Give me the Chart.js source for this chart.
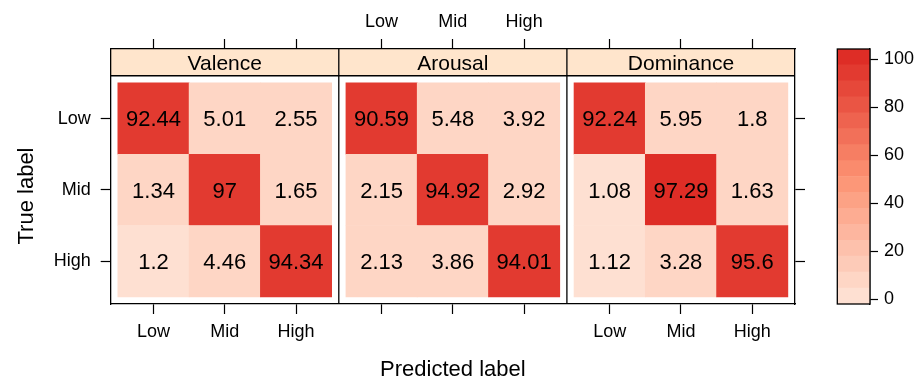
<!DOCTYPE html>
<html>
<head>
<meta charset="utf-8">
<script src="https://cdn.jsdelivr.net/npm/chart.js@4.4.1/dist/chart.umd.min.js"></script>
<style>
  html, body { margin: 0; padding: 0; background: #fff; }
  #wrap { position: relative; width: 919px; height: 378px; }
  #wrap canvas { position: absolute; left: 0; top: 0; }
</style>
</head>
<body>
<div id="wrap">
  <canvas id="matrix" width="919" height="378"></canvas>
  <canvas id="key" width="919" height="378"></canvas>
</div>
<script>
const panelNames = ['Valence', 'Arousal', 'Dominance'];
const classLabels = ['Low', 'Mid', 'High'];
// rows = true label (Low, Mid, High), columns = predicted label
const valence = [[92.44, 5.01, 2.55], [1.34, 97, 1.65], [1.2, 4.46, 94.34]];
const arousal = [[90.59, 5.48, 3.92], [2.15, 94.92, 2.92], [2.13, 3.86, 94.01]];
const dominance = [[92.24, 5.95, 1.8], [1.08, 97.29, 1.63], [1.12, 3.28, 95.6]];
const keyTicks = [0, 20, 40, 60, 80, 100];
const keyRange = [-1.96, 104.2];
const reds = ['#FEE0D2', '#FED6C5', '#FDCBB8', '#FDC1AC', '#FDB69F', '#FDAC92', '#FCA285', '#FC9778',
              '#FA8B6D', '#F67E63', '#F27059', '#EE634F', '#EA5544', '#E6483A', '#E23A30', '#DE2D26'];

const FONT = "'Liberation Sans', Arial, Helvetica, sans-serif";
const INK = '#000';
const PANEL_W = 3.2;   // a panel runs 0.4 .. 3.6 in cell units
const STRIP = 0.375;   // strip height in cell units

const matrices = [valence, arousal, dominance];
const allVals = [].concat(...matrices.map(m => [].concat(...m)));
const zMin = Math.min(...allVals), zMax = Math.max(...allVals);
const zLo = zMin - 0.07 * (zMax - zMin), zHi = zMax + 0.07 * (zMax - zMin);
const zStep = (zHi - zLo) / reds.length;
function fillFor(v) {
  const k = Math.ceil((v - zLo) / zStep) - 1;
  return reds[Math.max(0, Math.min(reds.length - 1, k))];
}

const cellX = (p, c) => p * PANEL_W + c + 0.6;
const tickPos = [];
matrices.forEach((m, p) => classLabels.forEach((l, c) => tickPos.push(cellX(p, c))));

const datasets = matrices.map((m, p) => {
  const pts = [], cols = [];
  m.forEach((row, r) => row.forEach((v, c) => {
    pts.push({ x: cellX(p, c), y: [r + 0.5, r + 1.5], v: v });
    cols.push(fillFor(v));
  }));
  return {
    label: panelNames[p], data: pts, backgroundColor: cols,
    borderWidth: 0, grouped: false, barPercentage: 1, categoryPercentage: 1
  };
});

function fixTicks(values) {
  return axis => { axis.ticks = values.map(v => ({ value: v })); };
}
const tickFont = { family: FONT, size: 18 };
const grid = { display: true, offset: false, drawOnChartArea: false, drawTicks: true, tickLength: 10, tickColor: INK, tickWidth: 1.2 };
const border = { display: true, color: INK, width: 1.3 };

const panelDecor = {
  id: 'panelDecor',
  beforeDraw(chart) {
    const { ctx, chartArea: a, scales } = chart;
    const yStrip = scales.y.getPixelForValue(0.4);
    ctx.save();
    ctx.fillStyle = '#FFE5CC';
    ctx.fillRect(a.left, a.top, a.right - a.left, yStrip - a.top);
    ctx.restore();
  },
  afterDatasetsDraw(chart) {
    const { ctx } = chart;
    ctx.save();
    ctx.fillStyle = INK;
    ctx.font = '22px ' + FONT;
    ctx.textAlign = 'center';
    ctx.textBaseline = 'alphabetic';
    chart.data.datasets.forEach((ds, d) => {
      chart.getDatasetMeta(d).data.forEach((bar, i) => {
        const cy = (bar.y + bar.base) / 2;
        ctx.fillText(String(ds.data[i].v), bar.x, cy + 0.358 * 22);
      });
    });
    ctx.restore();
  },
  afterDraw(chart) {
    const { ctx, chartArea: a, scales } = chart;
    const yStrip = scales.y.getPixelForValue(0.4);
    ctx.save();
    ctx.strokeStyle = INK;
    ctx.lineWidth = 1.3;
    ctx.beginPath();
    ctx.moveTo(a.left, yStrip);
    ctx.lineTo(a.right, yStrip);
    [1, 2].forEach(p => {
      const x = scales.x.getPixelForValue(p * PANEL_W);
      ctx.moveTo(x, a.top);
      ctx.lineTo(x, a.bottom);
    });
    ctx.stroke();

    ctx.fillStyle = INK;
    ctx.font = '21px ' + FONT;
    ctx.textAlign = 'center';
    ctx.textBaseline = 'alphabetic';
    panelNames.forEach((name, p) => {
      const x = scales.x.getPixelForValue(p * PANEL_W + PANEL_W / 2);
      ctx.fillText(name, x, (a.top + yStrip) / 2 + 0.358 * 21);
    });

    ctx.font = '22px ' + FONT;
    ctx.fillText('Predicted label', (a.left + a.right) / 2, 376);
    ctx.translate(32.7, 196);
    ctx.rotate(-Math.PI / 2);
    ctx.fillText('True label', 0, 0);
    ctx.restore();
  }
};

new Chart(document.getElementById('matrix'), {
  type: 'bar',
  data: { datasets: datasets },
  options: {
    responsive: false,
    animation: false,
    layout: { padding: { left: 0, top: 0, right: 112, bottom: 0 }, autoPadding: false },
    plugins: { legend: { display: false }, tooltip: { enabled: false } },
    scales: {
      x: {
        type: 'linear', position: 'bottom', min: 0, max: 3 * PANEL_W, offset: false,
        afterBuildTicks: fixTicks(tickPos),
        afterFit: s => { s.height = 74; },
        grid: grid, border: border,
        ticks: { autoSkip: false, maxRotation: 0, padding: 7, color: INK, font: tickFont,
                 callback: (v, i) => (Math.floor(i / 3) !== 1 ? classLabels[i % 3] : '') }
      },
      x2: {
        type: 'linear', position: 'top', min: 0, max: 3 * PANEL_W, offset: false,
        afterBuildTicks: fixTicks(tickPos),
        afterFit: s => { s.height = 49; },
        grid: grid, border: border,
        ticks: { autoSkip: false, maxRotation: 0, padding: 6.5, color: INK, font: tickFont,
                 callback: (v, i) => (Math.floor(i / 3) === 1 ? classLabels[i % 3] : '') }
      },
      y: {
        type: 'linear', position: 'left', reverse: true, min: 0.4 - STRIP, max: 3.6,
        afterBuildTicks: fixTicks([1, 2, 3]),
        afterFit: s => { s.width = 110.7; },
        grid: grid, border: border,
        ticks: { padding: 10, color: INK, font: tickFont, callback: (v, i) => classLabels[i] }
      },
      y2: {
        type: 'linear', position: 'right', reverse: true, min: 0.4 - STRIP, max: 3.6,
        afterBuildTicks: fixTicks([1, 2, 3]),
        afterFit: s => { s.width = 12; },
        grid: grid, border: border,
        ticks: { padding: 0, color: INK, font: tickFont, callback: () => '' }
      }
    }
  },
  plugins: [panelDecor]
});

// colour key
const keyStep = (keyRange[1] - keyRange[0]) / reds.length;
const keyBox = {
  id: 'keyBox',
  afterDraw(chart) {
    const { ctx, chartArea: a } = chart;
    ctx.save();
    ctx.strokeStyle = INK;
    ctx.lineWidth = 1.3;
    ctx.strokeRect(a.left, a.top, a.right - a.left, a.bottom - a.top);
    ctx.restore();
  }
};
new Chart(document.getElementById('key'), {
  type: 'bar',
  data: {
    labels: [''],
    datasets: reds.map((col, i) => ({
      data: [[keyRange[0] + i * keyStep, keyRange[0] + (i + 1) * keyStep]],
      backgroundColor: col, borderWidth: 0, grouped: false,
      barPercentage: 1, categoryPercentage: 1
    }))
  },
  options: {
    responsive: false,
    animation: false,
    layout: { padding: { left: 837.3, top: 49, right: 0, bottom: 74 }, autoPadding: false },
    plugins: { legend: { display: false }, tooltip: { enabled: false } },
    scales: {
      x: { type: 'category', display: false, offset: true },
      y: {
        position: 'right', min: keyRange[0], max: keyRange[1],
        afterBuildTicks: fixTicks(keyTicks),
        afterFit: s => { s.width = 49; },
        grid: { display: true, drawOnChartArea: false, drawTicks: true, tickLength: 8, tickColor: INK, tickWidth: 1.2 },
        border: border,
        ticks: { padding: 6, color: INK, font: tickFont }
      }
    }
  },
  plugins: [keyBox]
});
</script>
</body>
</html>
